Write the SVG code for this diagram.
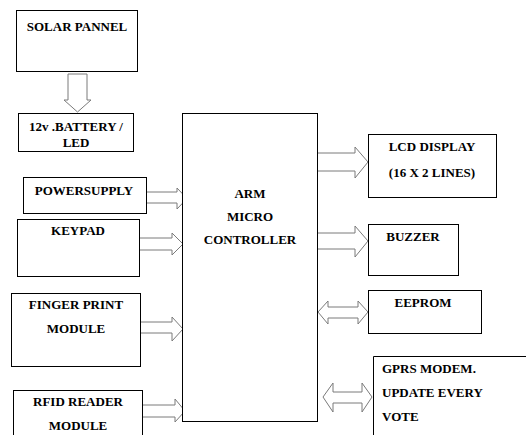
<svg xmlns="http://www.w3.org/2000/svg" width="526" height="435" viewBox="0 0 526 435">
<style>
.box{fill:#fff;stroke:#000;stroke-width:1}
.t{font-family:"Times New Roman","Liberation Serif",Tinos,"DejaVu Serif",serif;font-weight:700;font-size:13px;fill:#000}
.c{text-anchor:middle}
.arr{fill:#fff;stroke:#7a7a7a;stroke-width:1;stroke-linejoin:miter}
</style>
<rect width="526" height="435" fill="#fff"/>
<g id="connectors">
<path class="arr" d="M68,74 L87,74 L87,100 L91,100 L77.5,112 L64,100 L68,100 Z"/>
<path class="arr" d="M147,192 L177,192 L177,188 L187,198.5 L177,209 L177,203 L147,203"/>
<path class="arr" d="M140,238 L172,238 L172,233 L183,244 L172,255 L172,250 L140,250"/>
<path class="arr" d="M141,322 L172,322 L172,317 L183,329 L172,341 L172,333 L141,333"/>
<path class="arr" d="M143,405 L175,405 L175,399 L185,411 L175,422 L175,417 L143,417"/>
<path class="arr" d="M318,153 L355,153 L355,147 L368,162 L355,178 L355,171 L318,171"/>
<path class="arr" d="M318,233 L355,233 L355,226 L368,241 L355,257 L355,249 L318,249"/>
<path class="arr" d="M318,312 L328,301 L328,307 L358,307 L358,301 L368,312 L358,324 L358,318 L328,318 L328,324 Z"/>
<path class="arr" d="M323,397 L333,383 L333,392 L362,392 L362,383 L372,397 L362,412 L362,403 L333,403 L333,412 Z"/>
</g>
<g id="solar">
<rect class="box" x="16.5" y="10.5" width="121" height="61"/>
<text class="t c" x="77" y="31">SOLAR PANNEL</text>
</g>
<g id="battery">
<rect class="box" x="18.5" y="113.5" width="115" height="38"/>
<text class="t c" x="76" y="131">12v .BATTERY /</text>
<text class="t c" x="76" y="147">LED</text>
</g>
<g id="powersupply">
<rect class="box" x="23.5" y="177.5" width="123" height="36"/>
<text class="t c" x="84" y="195">POWERSUPPLY</text>
</g>
<g id="keypad">
<rect class="box" x="17.5" y="219.5" width="122" height="57"/>
<text class="t c" x="78" y="235">KEYPAD</text>
</g>
<g id="finger">
<rect class="box" x="11.5" y="293.5" width="129" height="73"/>
<text class="t c" x="76" y="309">FINGER PRINT</text>
<text class="t c" x="76" y="333">MODULE</text>
</g>
<g id="rfid">
<rect class="box" x="13.5" y="390.5" width="129" height="60"/>
<text class="t c" x="78" y="406">RFID READER</text>
<text class="t c" x="78" y="430">MODULE</text>
</g>
<g id="arm">
<rect class="box" x="182.5" y="113.5" width="135" height="308"/>
<text class="t c" x="250" y="198">ARM</text>
<text class="t c" x="250" y="221">MICRO</text>
<text class="t c" x="250" y="244">CONTROLLER</text>
</g>
<g id="lcd">
<rect class="box" x="368.5" y="134.5" width="128" height="63"/>
<text class="t c" x="432" y="151">LCD DISPLAY</text>
<text class="t c" x="432" y="177">(16 X 2 LINES)</text>
</g>
<g id="buzzer">
<rect class="box" x="368.5" y="224.5" width="90" height="51"/>
<text class="t c" x="413" y="241">BUZZER</text>
</g>
<g id="eeprom">
<rect class="box" x="368.5" y="290.5" width="113" height="43"/>
<text class="t c" x="423" y="307">EEPROM</text>
</g>
<g id="gprs">
<path class="box" d="M373.5,440 L373.5,356.5 L530,356.5" fill="none"/>
<text class="t" x="382" y="373">GPRS MODEM.</text>
<text class="t" x="382" y="397">UPDATE EVERY</text>
<text class="t" x="382" y="421">VOTE</text>
</g>
</svg>
